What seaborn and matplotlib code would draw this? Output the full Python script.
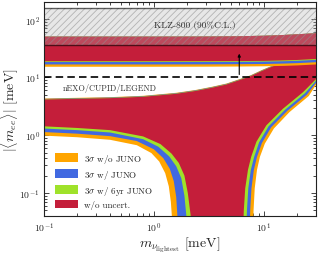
import matplotlib
matplotlib.use("Agg")
import matplotlib.pyplot as plt
import seaborn as sns
from matplotlib.patches import Patch

# --- data (m_lightest and |<m_ee>| in meV) ---
# normal ordering, upper edge
no_up_x = [0.1, 0.4, 0.8, 1.6, 2.4, 3.4, 4.6, 6.0, 7.6, 9.6, 12.3, 20, 30]
no_up_red = [4.13, 4.36, 4.6, 5.18, 5.8, 6.6, 7.5, 8.9, 10.4, 12.8, 15.6, 21.5, 31.0]
no_up_green = [4.18, 4.41, 4.66, 5.24, 5.87, 6.68, 7.59, 9.0, 10.52, 12.95, 15.78, 21.76, 31.4]
no_up_blue = [4.23, 4.47, 4.72, 5.31, 5.95, 6.77, 7.69, 9.12, 10.65, 13.1, 16.0, 22.0, 31.8]
no_up_orange = [4.3, 4.53, 4.78, 5.39, 6.03, 6.86, 7.8, 9.25, 10.8, 13.3, 16.2, 22.4, 32.2]

# normal ordering, lower edge left of the funnel
no_left_red_x = [0.1, 0.2, 0.4, 0.8, 1.15, 1.45, 1.69, 1.9, 2.04, 2.17, 2.2]
no_left_red_y = [1.42, 1.33, 1.22, 0.95, 0.70, 0.48, 0.33, 0.2, 0.1, 0.04, 0.02]
no_left_green_x = [0.1, 0.2, 0.4, 0.8, 1.1, 1.38, 1.6, 1.78, 1.9, 1.98, 2.0]
no_left_green_y = [1.30, 1.22, 1.11, 0.85, 0.63, 0.43, 0.29, 0.18, 0.09, 0.04, 0.02]
no_left_blue_x = [0.1, 0.2, 0.4, 0.7, 1.0, 1.22, 1.4, 1.52, 1.6, 1.64, 1.66]
no_left_blue_y = [1.13, 1.06, 0.96, 0.79, 0.57, 0.40, 0.26, 0.16, 0.085, 0.04, 0.02]
no_left_orange_x = [0.1, 0.2, 0.4, 0.7, 0.95, 1.12, 1.27, 1.37, 1.43, 1.46, 1.47]
no_left_orange_y = [0.98, 0.92, 0.83, 0.67, 0.49, 0.35, 0.22, 0.13, 0.07, 0.04, 0.02]

# normal ordering, lower edge right of the funnel
no_right_red_x = [6.5, 6.6, 6.8, 7.2, 7.7, 8.6, 10.6, 15, 22.8, 30]
no_right_red_y = [0.02, 0.05, 0.12, 0.25, 0.42, 0.77, 1.48, 2.86, 5.5, 9.3]
no_right_green_x = [6.95, 7.05, 7.25, 7.65, 8.2, 9.1, 11.1, 15.7, 23.8, 30]
no_right_green_y = [0.02, 0.05, 0.12, 0.25, 0.42, 0.75, 1.42, 2.75, 5.3, 8.7]
no_right_blue_x = [7.45, 7.55, 7.75, 8.15, 8.7, 9.65, 11.7, 16.4, 24.8, 30]
no_right_blue_y = [0.02, 0.05, 0.12, 0.25, 0.42, 0.73, 1.36, 2.62, 5.0, 8.0]
no_right_orange_x = [8.0, 8.1, 8.3, 8.7, 9.25, 10.25, 12.4, 17.2, 25.8, 30]
no_right_orange_y = [0.02, 0.05, 0.12, 0.25, 0.42, 0.71, 1.3, 2.5, 4.75, 7.4]

# inverted ordering band
io_x = [0.1, 1, 3, 6, 10, 15, 20, 30]
io_up = [51.5, 51.5, 51.7, 52.3, 53.3, 54.9, 56.5, 59.0]
io_low_red = [19.3, 19.3, 19.35, 19.45, 19.6, 19.95, 20.3, 21.1]
io_low_green = [18.7, 18.7, 18.75, 18.85, 19.0, 19.3, 19.65, 20.4]
io_low_blue = [17.0, 17.0, 17.05, 17.15, 17.3, 17.6, 17.9, 18.6]
io_low_orange = [15.5, 15.5, 15.55, 15.65, 15.8, 16.05, 16.35, 17.0]

klz_low, klz_high = 36, 156
nexo_level = 10
x_range = [0.1, 30]
arrow_x, arrow_top = 6.0, 28.6

labels = [r"3$\sigma$ w/o JUNO", r"3$\sigma$ w/ JUNO",
          r"3$\sigma$ w/ 6yr JUNO", "w/o uncert."]
colors = ["#FFA500", "#4169E1", "#9FE22A", "#C41E3A"]


def main():
    sns.set_theme(style="ticks")
    plt.rcParams["font.family"] = ["cmr10", "DejaVu Serif"]
    plt.rcParams["mathtext.fontset"] = "cm"
    plt.rcParams["axes.formatter.use_mathtext"] = True
    plt.rcParams["hatch.linewidth"] = 0.6

    fig = plt.figure(figsize=(3.19, 2.55), dpi=100)
    ax = fig.add_axes([44 / 319, 38 / 255, 272 / 319, 214 / 255])
    ax.set_xscale("log")
    ax.set_yscale("log")

    no_sets = [
        (no_up_orange, no_left_orange_x, no_left_orange_y, no_right_orange_x, no_right_orange_y),
        (no_up_blue, no_left_blue_x, no_left_blue_y, no_right_blue_x, no_right_blue_y),
        (no_up_green, no_left_green_x, no_left_green_y, no_right_green_x, no_right_green_y),
        (no_up_red, no_left_red_x, no_left_red_y, no_right_red_x, no_right_red_y),
    ]
    for c, (up, lx, ly, rx, ry) in zip(colors, no_sets):
        px = list(no_up_x) + list(rx[::-1]) + list(lx[::-1])
        py = list(up) + list(ry[::-1]) + list(ly[::-1])
        ax.fill(px, py, color=c, lw=0, zorder=2)

    for c, low in zip(colors, [io_low_orange, io_low_blue, io_low_green, io_low_red]):
        ax.fill_between(io_x, low, io_up, color=c, lw=0, zorder=3)

    # KamLAND-Zen band
    ax.fill_between(x_range, klz_low, klz_high, facecolor="#b0b0b0",
                    alpha=0.3, lw=0, zorder=4)
    ax.fill_between(x_range, klz_low, klz_high, facecolor="none",
                    edgecolor="#909090", hatch="/////", lw=0, alpha=0.6, zorder=4)
    sns.lineplot(x=x_range, y=[klz_high, klz_high], color="black", alpha=0.6,
                 lw=1.0, ax=ax, zorder=5)
    sns.lineplot(x=x_range, y=[klz_low, klz_low], color="black", alpha=0.6,
                 lw=1.0, ax=ax, zorder=5)
    ax.text(1.0, 82, "KLZ-800 (90%C.L.)", fontsize=6.8, va="center", ha="left",
            color="#333333", zorder=6)

    # nEXO / CUPID / LEGEND sensitivity
    sns.lineplot(x=x_range, y=[nexo_level, nexo_level], color="black", lw=1.2,
                 ax=ax, zorder=5, dashes=False)
    ax.lines[-1].set_dashes((4.5, 2.5))
    ax.text(0.149, 6.7, "nEXO/CUPID/LEGEND", fontsize=6, va="center",
            ha="left", color="#333333", zorder=6)
    ax.annotate("", xy=(arrow_x, arrow_top), xytext=(arrow_x, nexo_level),
                arrowprops=dict(arrowstyle="-|>", color="black", lw=0.8,
                                mutation_scale=4), zorder=6)

    ax.set_xlim(0.1, 30)
    ax.set_ylim(0.04, 200)
    ax.tick_params(which="both", direction="in", top=True, right=True,
                   labelsize=7, width=0.6, pad=3)
    ax.tick_params(which="major", length=3.5)
    ax.tick_params(which="minor", length=2)
    for s in ax.spines.values():
        s.set_linewidth(0.8)
        s.set_color("#222222")
        s.set_zorder(10)

    ax.set_xlabel(r"$m_{\nu_{\rm lightest}}$ [meV]", fontsize=10)
    ax.set_ylabel(r"$|\langle m_{ee}\rangle|$ [meV]", fontsize=10)
    ax.xaxis.set_label_coords(0.5, -0.085)
    ax.yaxis.set_label_coords(-0.085, 0.5)

    handles = [Patch(facecolor=c, edgecolor="none") for c in colors]
    ax.legend(handles, labels, loc="lower left",
              bbox_to_anchor=(0.01, -0.005), frameon=False, fontsize=6.5,
              handlelength=2.6, handleheight=1.1, labelspacing=0.32,
              handletextpad=0.6)

    plt.savefig("out.png", dpi=100)
    plt.close()


if __name__ == "__main__":
    main()
